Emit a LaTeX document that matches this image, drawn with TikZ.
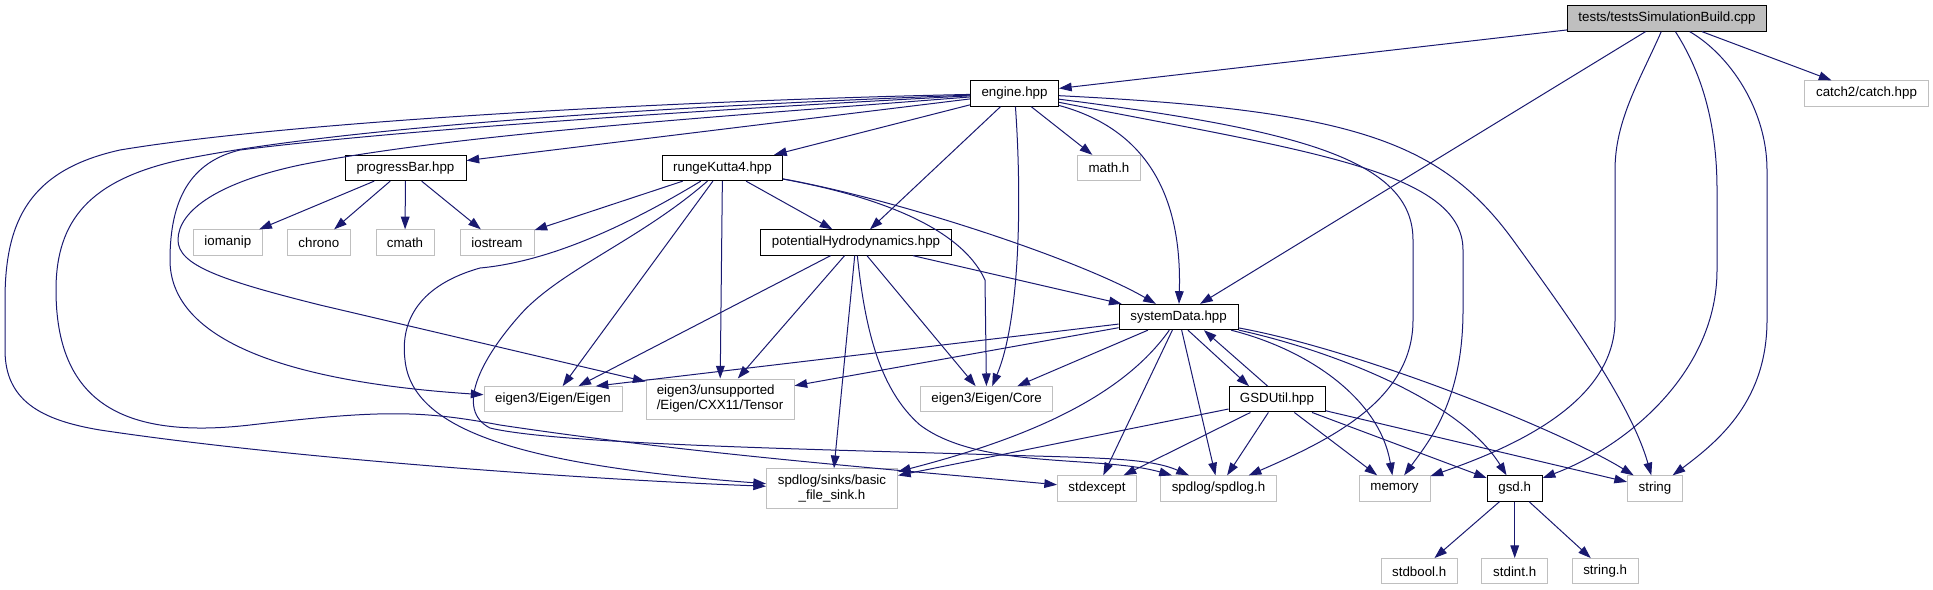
\documentclass[tikz,border=0pt]{standalone}
\usepackage{fontspec}
\setmainfont{Liberation Sans}
\usetikzlibrary{arrows.meta, positioning}
\definecolor{edgeblue}{RGB}{25,25,112}
\definecolor{extgray}{RGB}{191,191,191}

\begin{document}
\begin{tikzpicture}[x=0.75pt, y=-0.75pt,
    >={Triangle[length=9.5pt, width=6.5pt]},
    file/.style={rectangle, draw=black, fill=white, line width=0.75pt, inner sep=0pt,
                 minimum height=19pt, font=\fontsize{10}{11.25}\selectfont},
    extfile/.style={file, draw=extgray},
    dep/.style={->, draw=edgeblue, line width=0.75pt}]
    \useasboundingbox (0,0) rectangle (1933,589);

    % Define nodes
    \node [file, fill=extgray, minimum width=149.25pt] (tests) at (1667,18.5) {tests/testsSimulationBuild.cpp};
    \node [extfile, minimum width=93pt] (catch) at (1866.5,93.5) {catch2/catch.hpp};
    \node [file, minimum width=66pt] (engine) at (1014.5,93.5) {engine.hpp};
    \node [file, minimum width=90.75pt] (progress) at (405.5,168) {progressBar.hpp};
    \node [file, minimum width=90pt] (runge) at (722.5,168) {rungeKutta4.hpp};
    \node [extfile, minimum width=47.25pt] (mathh) at (1109,168) {math.h};
    \node [extfile, minimum width=43.5pt] (cmath) at (405,242.5) {cmath};
    \node [extfile, minimum width=47.25pt, left=18.5pt of cmath] (chrono) {chrono};
    \node [extfile, minimum width=51.75pt, left=18pt of chrono] (iomanip) {iomanip};
    \node [extfile, minimum width=55.5pt, right=18.75pt of cmath] (iostream) {iostream};
    \node [file, minimum width=143.25pt] (hydro) at (856,242.5) {potentialHydrodynamics.hpp};
    \node [file, minimum width=89.25pt] (sysdata) at (1178.6,317) {systemData.hpp};
    \node [extfile, minimum width=103.5pt] (eigen) at (553,399.3) {eigen3/Eigen/Eigen};
    \node [extfile, minimum width=111pt, minimum height=30pt, align=left] (tensor) at (720,399) {eigen3/unsupported\\/Eigen/CXX11/Tensor};
    \node [extfile, minimum width=99pt] (core) at (986.6,399.3) {eigen3/Eigen/Core};
    \node [file, minimum width=72pt] (gsdutil) at (1277,399.3) {GSDUtil.hpp};
    \node [extfile, minimum width=98.25pt, minimum height=30pt, align=center] (filesink) at (832,488.7) {spdlog/sinks/basic\\\_file\_sink.h};
    \node [extfile, minimum width=59.25pt] (stdexcept) at (1097,488.5) {stdexcept};
    \node [extfile, minimum width=87.4pt] (spdlog) at (1218.5,488.5) {spdlog/spdlog.h};
    \node [extfile, minimum width=53.25pt] (memory) at (1394.5,488.5) {memory};
    \node [file, minimum width=41.25pt] (gsd) at (1514.7,488.5) {gsd.h};
    \node [extfile, minimum width=41.25pt] (string) at (1655,488.5) {string};
    \node [extfile, minimum width=49.5pt, below=42.3pt of gsd] (stdint) {stdint.h};
    \node [extfile, minimum width=57pt, left=17.6pt of stdint] (stdbool) {stdbool.h};
    \node [extfile, minimum width=49.5pt, right=17.6pt of stdint] (stringh) {string.h};

    % Draw arrows
    \draw[dep] (tests) -- (engine);
    \draw[dep] (tests) -- (sysdata);
    \draw[dep] (tests) -- (catch);
    \draw[dep] (tests) .. controls (1640,80) and (1615,120) .. (1615,170) -- (1615,320) .. controls (1615,400) and (1520,445) .. (memory);
    \draw[dep] (tests) .. controls (1700,70) and (1717,120) .. (1717,190) -- (1717,270) .. controls (1717,370) and (1630,445) .. (gsd);
    \draw[dep] (tests) .. controls (1730,55) and (1767,110) .. (1767,170) -- (1767,320) .. controls (1767,400) and (1720,440) .. (string);

    \draw[dep] (engine) -- (progress);
    \draw[dep] (engine) -- (runge);
    \draw[dep] (engine) -- (hydro);
    \draw[dep] (engine) -- (mathh);
    \draw[dep] (engine) .. controls (1150,130) and (1182,200) .. (sysdata);
    \draw[dep] (engine) .. controls (1022,200) and (1020,320) .. (core);
    \draw[dep] (engine) .. controls (1350,110) and (1440,140) .. (1513,240) .. controls (1560,305) and (1630,400) .. (string);
    \draw[dep] (engine) .. controls (1300,130) and (1413,160) .. (1413,240) -- (1413,320) .. controls (1413,400) and (1330,440) .. (spdlog);
    \draw[dep] (engine) .. controls (1300,150) and (1463,170) .. (1463,250) -- (1463,310) .. controls (1463,400) and (1430,440) .. (memory);
    \draw[dep] (engine) .. controls (700,100) and (300,120) .. (120,150) .. controls (30,170) and (5,220) .. (5,300) -- (5,350) .. controls (5,400) and (40,420) .. (100,430) .. controls (300,460) and (600,480) .. (filesink);
    \draw[dep] (engine) .. controls (700,105) and (350,125) .. (180,160) .. controls (90,180) and (56,220) .. (56,290) .. controls (56,400) and (120,440) .. (250,425) .. controls (380,410) and (420,410) .. (500,425) .. controls (700,455) and (900,470) .. (stdexcept);
    \draw[dep] (engine) .. controls (700,110) and (400,130) .. (240,150) .. controls (190,162) and (170,200) .. (170,260) .. controls (170,330) and (260,380) .. (eigen);
    \draw[dep] (engine) .. controls (700,118) and (450,135) .. (300,165) .. controls (220,182) and (178,210) .. (178,240) .. controls (178,265) and (220,280) .. (320,305) -- (tensor);

    \draw[dep] (progress) -- (iomanip);
    \draw[dep] (progress) -- (chrono);
    \draw[dep] (progress) -- (cmath);
    \draw[dep] (progress) -- (iostream);

    \draw[dep] (runge) -- (iostream);
    \draw[dep] (runge) -- (hydro);
    \draw[dep] (runge) -- (eigen);
    \draw[dep] (runge) -- (tensor);
    \draw[dep] (runge) .. controls (870,195) and (960,225) .. (985,280) -- (core);
    \draw[dep] (runge) .. controls (900,200) and (1080,260) .. (sysdata);
    \draw[dep] (runge) .. controls (620,230) and (545,262) .. (480,268) .. controls (420,285) and (400,320) .. (405,360) .. controls (412,430) and (520,465) .. (filesink);
    \draw[dep] (runge) .. controls (640,240) and (560,270) .. (520,315) .. controls (480,360) and (455,410) .. (490,428) .. controls (560,445) and (850,450) .. (1000,455) .. controls (1100,458) and (1150,458) .. (spdlog);

    \draw[dep] (hydro) -- (eigen);
    \draw[dep] (hydro) -- (tensor);
    \draw[dep] (hydro) -- (filesink);
    \draw[dep] (hydro) -- (core);
    \draw[dep] (hydro) -- (sysdata);
    \draw[dep] (hydro) .. controls (865,330) and (880,390) .. (920,425) .. controls (980,470) and (1100,455) .. (spdlog);

    \draw[dep] (sysdata) -- ([xshift=32pt]eigen.north);
    \draw[dep] (sysdata) -- (tensor);
    \draw[dep] (sysdata) -- (core);
    \draw[dep] (sysdata) .. controls (1120,400) and (1020,440) .. (filesink);
    \draw[dep] (sysdata) -- (stdexcept);
    \draw[dep] (sysdata) -- (spdlog);
    \draw[dep] ([xshift=7pt]sysdata.south) -- ([xshift=-21pt]gsdutil.north);
    \draw[dep] (sysdata) .. controls (1310,350) and (1380,400) .. (memory);
    \draw[dep] (sysdata) .. controls (1330,350) and (1460,400) .. (gsd);
    \draw[dep] (sysdata) .. controls (1360,350) and (1560,430) .. (string);

    \draw[dep] (gsdutil) -- (filesink);
    \draw[dep] (gsdutil) -- (stdexcept);
    \draw[dep] (gsdutil) -- (spdlog);
    \draw[dep] (gsdutil) -- (memory);
    \draw[dep] (gsdutil) -- (gsd);
    \draw[dep] (gsdutil) -- (string);
    \draw[dep] ([xshift=-7pt]gsdutil.north) -- ([xshift=19pt]sysdata.south);

    \draw[dep] (gsd) -- (stdbool);
    \draw[dep] (gsd) -- (stdint);
    \draw[dep] (gsd) -- (stringh);
\end{tikzpicture}
\end{document}
